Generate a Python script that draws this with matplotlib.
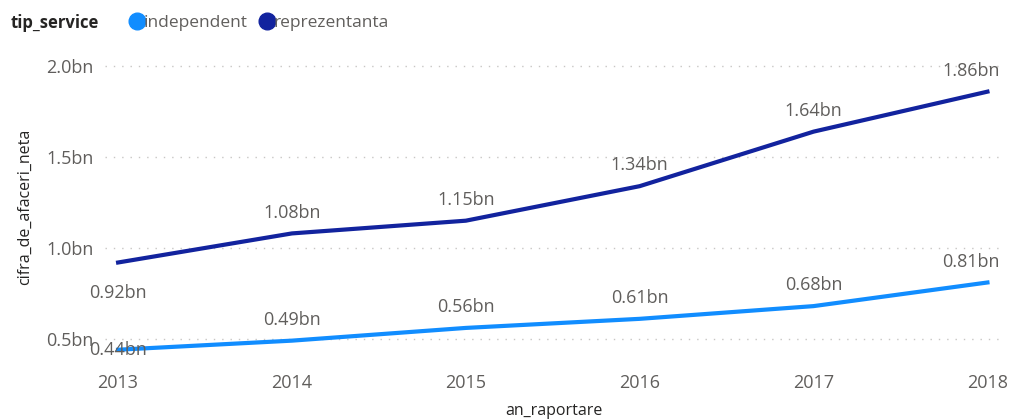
import matplotlib.pyplot as plt
from matplotlib.lines import Line2D

ani = [2013, 2014, 2015, 2016, 2017, 2018]
independent = [0.44, 0.49, 0.56, 0.61, 0.68, 0.81]
reprezentanta = [0.92, 1.08, 1.15, 1.34, 1.64, 1.86]
y_ticks = [0.5, 1.0, 1.5, 2.0]
y_tick_labels = ['0.5bn', '1.0bn', '1.5bn', '2.0bn']

COL_IND = '#118DFF'
COL_REP = '#12239E'
TEXT = '#605E5C'

plt.rcParams['font.family'] = ['Open Sans', 'DejaVu Sans']

fig = plt.figure(figsize=(10.13, 4.2), dpi=100)
ax = fig.add_axes([0.1037, 0.15, 0.886, 0.714])

ax.plot(ani, reprezentanta, color=COL_REP, lw=3)
ax.plot(ani, independent, color=COL_IND, lw=3)


def eticheta(x, y, dy, ultim):
    # ultima eticheta e impinsa spre stanga ca sa nu iasa din grafic
    if ultim:
        ax.annotate(f'{y:.2f}bn', (x, y), xytext=(9, dy), textcoords='offset points',
                    ha='right', va='center', fontsize=13, color=TEXT)
    else:
        ax.annotate(f'{y:.2f}bn', (x, y), xytext=(0, dy), textcoords='offset points',
                    ha='center', va='center', fontsize=13, color=TEXT)


n = len(ani)
for i, (x, y) in enumerate(zip(ani, reprezentanta)):
    eticheta(x, y, -22 if i == 0 else 15, i == n - 1)
for i, (x, y) in enumerate(zip(ani, independent)):
    eticheta(x, y, 0 if i == 0 else 15, i == n - 1)

ax.set_xlim(2012.925, 2018.087)
ax.set_ylim(0.4, 2.05)
ax.set_xticks(ani)
ax.set_xticklabels([str(a) for a in ani])
ax.set_yticks(y_ticks)
ax.set_yticklabels(y_tick_labels)
ax.tick_params(length=0, labelsize=13, colors=TEXT)
ax.tick_params(axis='x', pad=12)
ax.tick_params(axis='y', pad=8)
ax.grid(axis='y', color='#C8C6C4', linestyle=(0, (1, 5)), lw=1)
ax.set_axisbelow(True)
for s in ax.spines.values():
    s.set_visible(False)

ax.set_xlabel('an_raportare', fontsize=11.5, color='#252423', labelpad=8)
ax.set_ylabel('cifra_de_afaceri_neta', fontsize=11.5, color='#252423', labelpad=10)

# legenda
fig.text(0.01, 0.945, 'tip_service', fontsize=12, fontweight='bold', color='#252423', va='center')
handles = [Line2D([], [], marker='o', ls='', color=COL_IND, markersize=12),
           Line2D([], [], marker='o', ls='', color=COL_REP, markersize=12)]
leg = fig.legend(handles, ['independent', 'reprezentanta'], loc='center left',
                 bbox_to_anchor=(0.118, 0.945), ncol=2, frameon=False, fontsize=12.5,
                 handletextpad=-0.1, columnspacing=0.6, handlelength=1.0, borderpad=0)
for t in leg.get_texts():
    t.set_color(TEXT)

plt.savefig('out.png', dpi=100)
